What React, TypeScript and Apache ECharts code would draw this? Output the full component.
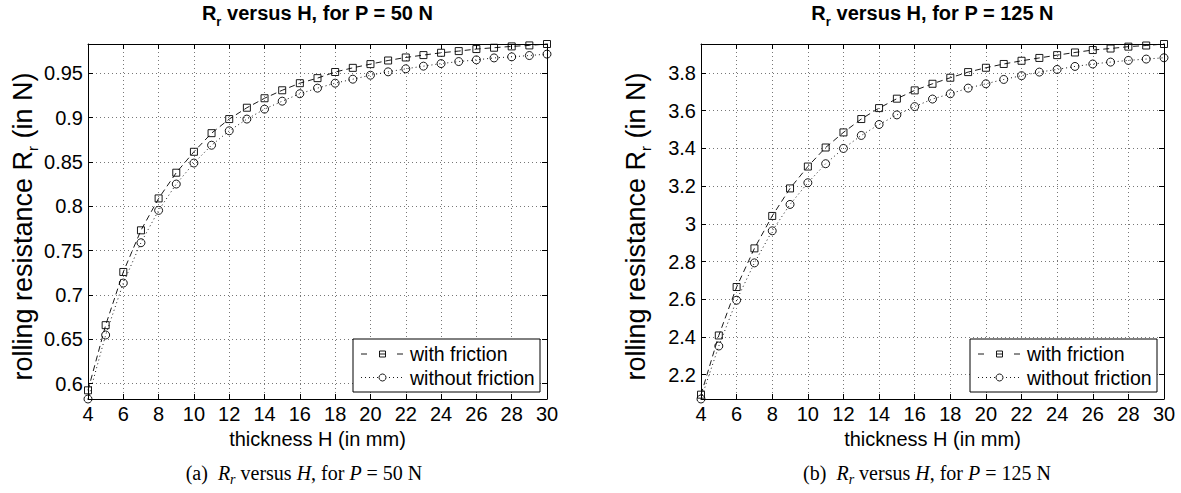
import React, { useEffect, useRef } from 'react';
import * as echarts from 'echarts';

// thickness H (mm)
const thickness = [4, 5, 6, 7, 8, 9, 10, 11, 12, 13, 14, 15, 16, 17, 18, 19, 20, 21, 22, 23, 24, 25, 26, 27, 28, 29, 30];

// P = 50 N
const withFriction50 = [0.5925, 0.666, 0.726, 0.773, 0.809, 0.838, 0.8616, 0.8826, 0.8985, 0.9113, 0.922, 0.931, 0.939, 0.9447, 0.9516, 0.9563, 0.9605, 0.9646, 0.968, 0.9707, 0.9733, 0.9752, 0.9775, 0.979, 0.9805, 0.9816, 0.9832];
const withoutFriction50 = [0.5827, 0.6549, 0.7135, 0.759, 0.7955, 0.8252, 0.8489, 0.869, 0.8853, 0.8985, 0.9097, 0.9187, 0.9271, 0.9334, 0.939, 0.9435, 0.948, 0.9518, 0.9552, 0.9582, 0.9611, 0.9634, 0.9653, 0.9675, 0.9687, 0.9702, 0.9718];

// P = 125 N
const withFriction125 = [2.094, 2.408, 2.665, 2.87, 3.042, 3.188, 3.304, 3.405, 3.485, 3.556, 3.614, 3.664, 3.708, 3.743, 3.775, 3.805, 3.828, 3.848, 3.865, 3.88, 3.895, 3.909, 3.922, 3.93, 3.94, 3.946, 3.954];
const withoutFriction125 = [2.071, 2.352, 2.595, 2.793, 2.963, 3.103, 3.218, 3.319, 3.4, 3.469, 3.527, 3.578, 3.622, 3.662, 3.69, 3.72, 3.743, 3.766, 3.786, 3.805, 3.819, 3.835, 3.848, 3.858, 3.867, 3.874, 3.881];

// tick labels
const xTicksMin = 4;
const xTicksMax = 30;
const xTickStep = 2;
const yTicks50 = [0.6, 0.65, 0.7, 0.75, 0.8, 0.85, 0.9, 0.95];
const yTicks125 = [2.2, 2.4, 2.6, 2.8, 3, 3.2, 3.4, 3.6, 3.8];

const seriesNames = ['with friction', 'without friction'];
const titles = ['R_r versus H, for P = 50 N', 'R_r versus H, for P = 125 N'];
const captionLetters = ['(a)', '(b)'];
const loads = ['50', '125'];

const SANS = '"Liberation Sans", Arial, Helvetica, sans-serif';
const SERIF = '"Liberation Serif", "Times New Roman", serif';

function pairs(xs: number[], ys: number[]) {
  return xs.map((x, i) => [x, ys[i]]);
}

function buildOption() {
  const grids = [
    { left: 88, top: 44, width: 459, height: 355 },
    { left: 701, top: 44, width: 463, height: 355 },
  ];
  const yTickSets = [yTicks50, yTicks125];
  const dataSets = [
    [withFriction50, withoutFriction50],
    [withFriction125, withoutFriction125],
  ];

  const xAxis: any[] = [];
  const yAxis: any[] = [];
  const series: any[] = [];
  const graphic: any[] = [];

  const gridLine = { show: true, lineStyle: { color: '#777', type: [1, 3], width: 1 } };

  grids.forEach((g, gi) => {
    const yt = yTickSets[gi];
    const all = dataSets[gi][0].concat(dataSets[gi][1]);
    const yMin = Math.min(...all);
    const yMax = Math.max(...all);

    xAxis.push({
      gridIndex: gi, type: 'value', position: 'bottom', min: xTicksMin, max: xTicksMax, interval: xTickStep,
      axisLine: { show: true, onZero: false, lineStyle: { color: '#000', width: 1 } },
      axisTick: { show: true, inside: true, length: 5, lineStyle: { color: '#000', width: 1 } },
      axisLabel: { color: '#000', fontSize: 20, fontFamily: SANS, margin: 5 },
      splitLine: gridLine,
      name: 'thickness H (in mm)', nameLocation: 'middle', nameGap: 26,
      nameTextStyle: { color: '#000', fontSize: 20, fontFamily: SANS },
    });
    xAxis.push({
      gridIndex: gi, type: 'value', position: 'top', min: xTicksMin, max: xTicksMax, interval: xTickStep,
      axisLine: { show: true, onZero: false, lineStyle: { color: '#000', width: 1 } },
      axisTick: { show: true, inside: true, length: 5, lineStyle: { color: '#000', width: 1 } },
      axisLabel: { show: false }, splitLine: { show: false },
    });
    yAxis.push({
      gridIndex: gi, type: 'value', position: 'left', min: yMin, max: yMax,
      axisLine: { show: true, onZero: false, lineStyle: { color: '#000', width: 1 } },
      axisTick: { show: true, inside: true, length: 5, customValues: yt, lineStyle: { color: '#000', width: 1 } },
      axisLabel: { color: '#000', fontSize: 20, fontFamily: SANS, margin: 5, customValues: yt },
      splitLine: gridLine,
      name: '{b|rolling resistance R}{s|r}{b| (in N)}', nameLocation: 'middle', nameRotate: 90, nameGap: 50,
      nameTextStyle: {
        color: '#000', fontFamily: SANS, padding: [0, 10, 0, 0],
        rich: {
          b: { fontSize: 27, fontFamily: SANS, color: '#000', lineHeight: 29, verticalAlign: 'top' },
          s: { fontSize: 15, fontFamily: SANS, color: '#000', lineHeight: 16, padding: [18, 0, 0, 0] },
        },
      },
    });
    yAxis.push({
      gridIndex: gi, type: 'value', position: 'right', min: yMin, max: yMax,
      axisLine: { show: true, onZero: false, lineStyle: { color: '#000', width: 1 } },
      axisTick: { show: true, inside: true, length: 5, customValues: yt, lineStyle: { color: '#000', width: 1 } },
      axisLabel: { show: false }, splitLine: { show: false },
    });

    const common = { xAxisIndex: gi * 2, yAxisIndex: gi * 2, type: 'line', clip: false, silent: true };
    series.push({
      ...common, name: seriesNames[0], data: pairs(thickness, dataSets[gi][0]),
      symbol: 'rect', symbolSize: 7,
      itemStyle: { color: 'rgba(0,0,0,0)', borderColor: '#000', borderWidth: 0.9 },
      lineStyle: { color: '#000', width: 0.9, type: [6, 4] },
    });
    series.push({
      ...common, name: seriesNames[1], data: pairs(thickness, dataSets[gi][1]),
      symbol: 'circle', symbolSize: 8,
      itemStyle: { color: 'rgba(0,0,0,0)', borderColor: '#000', borderWidth: 0.9 },
      lineStyle: { color: '#000', width: 0.9, type: [1, 3] },
    });

    // title
    const titleParts = titles[gi].split('_r');
    graphic.push({
      type: 'text', x: g.left + g.width / 2, y: 3, silent: true,
      style: {
        text: `{b|${titleParts[0]}}{s|r}{b|${titleParts[1]}}`,
        align: 'center', verticalAlign: 'top', fill: '#000',
        rich: {
          b: { fontSize: 20, fontWeight: 'bold', fontFamily: SANS, fill: '#000', lineHeight: 22, verticalAlign: 'top' },
          s: { fontSize: 13, fontWeight: 'bold', fontFamily: SANS, fill: '#000', lineHeight: 14, padding: [14, 0, 0, 0] },
        },
      },
    });

    // caption
    graphic.push({
      type: 'text', x: gi === 0 ? 304 : 927, y: 474, silent: true,
      style: {
        text: `{n|${captionLetters[gi]}}{n|  }{i|R}{si|r}{n| versus }{i|H}{n|, for }{i|P}{n| = ${loads[gi]} N}`,
        align: 'center', verticalAlign: 'middle', fill: '#000',
        rich: {
          n: { fontSize: 20, fontFamily: SERIF, fill: '#000', lineHeight: 22, verticalAlign: 'top' },
          i: { fontSize: 20, fontFamily: SERIF, fontStyle: 'italic', fill: '#000', lineHeight: 22, verticalAlign: 'top' },
          si: { fontSize: 14, fontFamily: SERIF, fontStyle: 'italic', fill: '#000', lineHeight: 15, padding: [11, 0, 0, 0] },
        },
      },
    });

    // legend box
    const lx = g.left + g.width - 194;
    const ly = 339;
    const row1 = ly + 15;
    const row2 = ly + 38.5;
    const mx = lx + 29.5;
    graphic.push(
      { type: 'rect', silent: true, shape: { x: lx, y: ly, width: 187, height: 53 }, style: { fill: '#fff', stroke: '#000', lineWidth: 1 }, z: 100 },
      { type: 'line', silent: true, shape: { x1: lx + 8, y1: row1, x2: lx + 50, y2: row1 }, style: { stroke: '#000', lineWidth: 0.9, lineDash: [6, 30] }, z: 101 },
      { type: 'line', silent: true, shape: { x1: mx - 3, y1: row1, x2: mx + 3, y2: row1 }, style: { stroke: '#000', lineWidth: 0.9 }, z: 101 },
      { type: 'rect', silent: true, shape: { x: mx - 3, y: row1 - 3, width: 6, height: 6 }, style: { fill: 'none', stroke: '#000', lineWidth: 0.9 }, z: 101 },
      { type: 'line', silent: true, shape: { x1: lx + 8, y1: row2, x2: lx + 50, y2: row2 }, style: { stroke: '#000', lineWidth: 0.9, lineDash: [1, 3] }, z: 101 },
      { type: 'circle', silent: true, shape: { cx: mx, cy: row2, r: 3.5 }, style: { fill: '#fff', stroke: '#000', lineWidth: 0.9 }, z: 101 },
      { type: 'text', silent: true, x: lx + 57, y: row1, z: 101, style: { text: seriesNames[0], fontSize: 19.5, fontFamily: SANS, fill: '#000', align: 'left', verticalAlign: 'middle' } },
      { type: 'text', silent: true, x: lx + 57, y: row2, z: 101, style: { text: seriesNames[1], fontSize: 19.5, fontFamily: SANS, fill: '#000', align: 'left', verticalAlign: 'middle' } },
    );
  });

  return {
    animation: false,
    backgroundColor: '#fff',
    textStyle: { fontFamily: SANS },
    grid: grids,
    xAxis,
    yAxis,
    series,
    graphic,
  };
}

export default function App() {
  const ref = useRef<HTMLDivElement>(null);
  useEffect(() => {
    const chart = echarts.init(ref.current!, null, { renderer: 'svg' });
    chart.setOption(buildOption() as any);
    return () => chart.dispose();
  }, []);
  return (
    <div
      ref={ref}
      style={{ position: 'fixed', left: 0, top: 0, width: 1181, height: 493, background: '#fff' }}
    />
  );
}
